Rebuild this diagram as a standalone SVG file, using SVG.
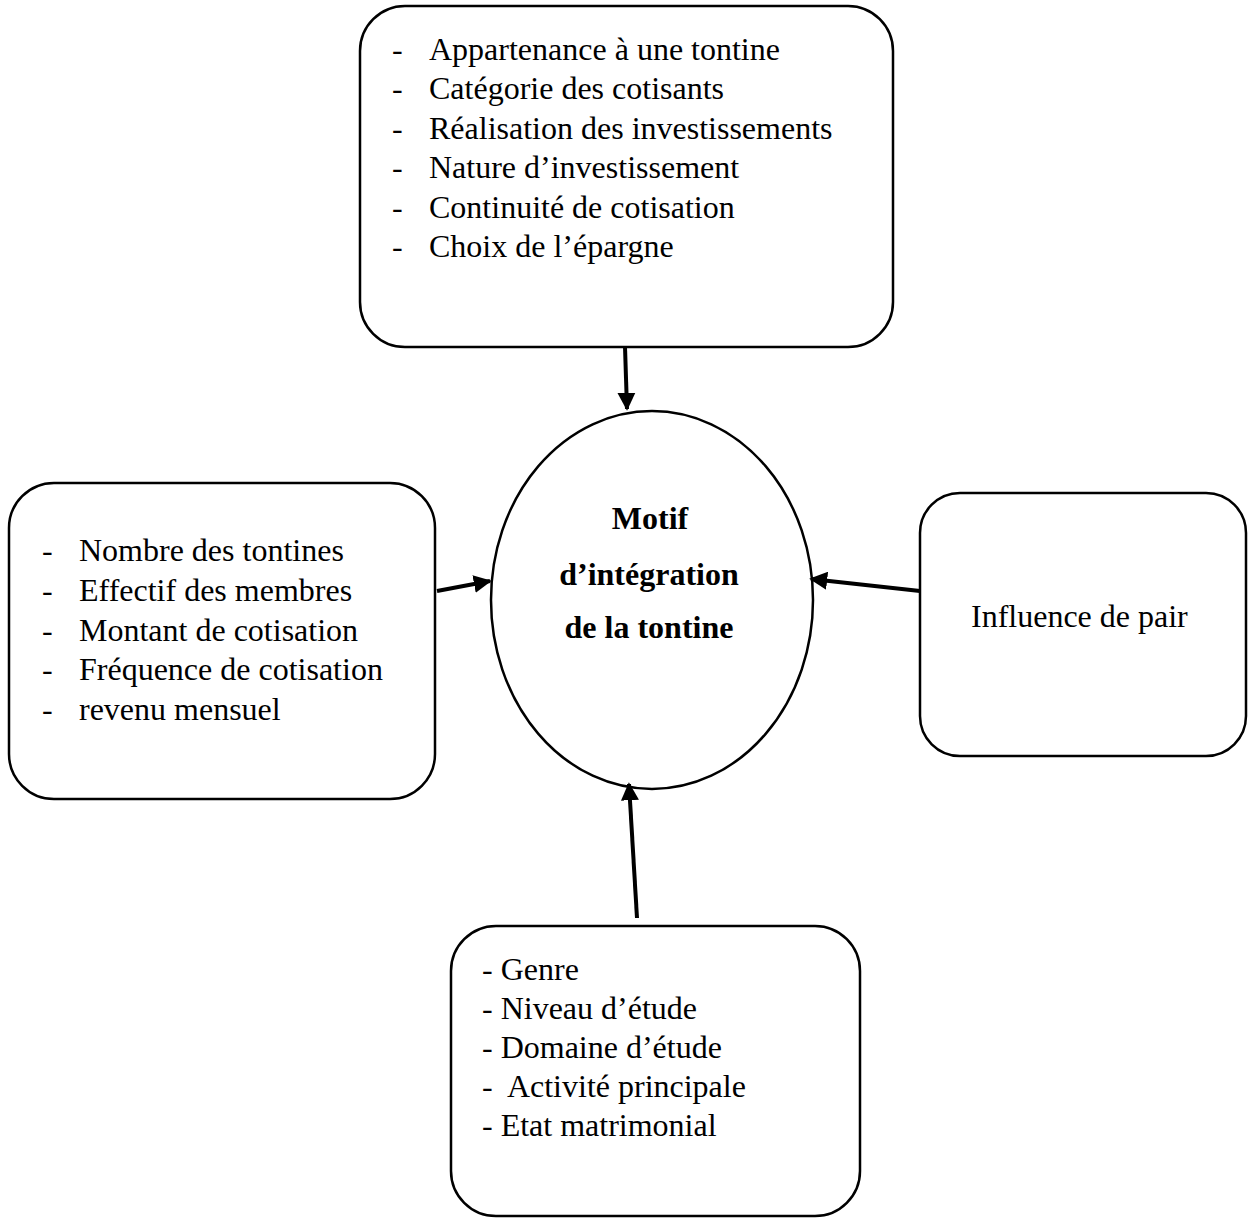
<svg xmlns="http://www.w3.org/2000/svg" width="1248" height="1218" viewBox="0 0 1248 1218">
<style>
.box{fill:#fff;stroke:#000;stroke-width:2.5}
.t{font-family:"Liberation Serif","Times New Roman",serif;font-size:32px;fill:#000;white-space:pre}
.b{font-weight:bold;text-anchor:middle}
.c{stroke:#000;stroke-width:4;fill:none;marker-end:url(#ah)}
</style>
<defs>
<marker id="ah" viewBox="0 0 10 10" refX="9" refY="5" markerWidth="4.5" markerHeight="4.5" orient="auto" markerUnits="strokeWidth">
<path d="M0,0 L10,5 L0,10 z" fill="#000"/>
</marker>
</defs>
<rect width="1248" height="1218" fill="#fff"/>
<g id="top">
<rect class="box" x="360" y="6" width="533" height="341" rx="45"/>
<g class="t">
<text x="392" y="60">-</text><text x="429" y="60">Appartenance à une tontine</text>
<text x="392" y="99">-</text><text x="429" y="99">Catégorie des cotisants</text>
<text x="392" y="139">-</text><text x="429" y="139">Réalisation des investissements</text>
<text x="392" y="178">-</text><text x="429" y="178">Nature d’investissement</text>
<text x="392" y="218">-</text><text x="429" y="218">Continuité de cotisation</text>
<text x="392" y="257">-</text><text x="429" y="257">Choix de l’épargne</text>
</g>
</g>
<g id="left">
<rect class="box" x="9" y="483" width="426" height="316" rx="45"/>
<g class="t">
<text x="42" y="561">-</text><text x="79" y="561">Nombre des tontines</text>
<text x="42" y="601">-</text><text x="79" y="601">Effectif des membres</text>
<text x="42" y="641">-</text><text x="79" y="641">Montant de cotisation</text>
<text x="42" y="680">-</text><text x="79" y="680">Fréquence de cotisation</text>
<text x="42" y="720">-</text><text x="79" y="720">revenu mensuel</text>
</g>
</g>
<g id="right">
<rect class="box" x="920" y="493" width="326" height="263" rx="40"/>
<text class="t" x="971" y="627">Influence de pair</text>
</g>
<g id="bottom">
<rect class="box" x="451" y="926" width="409" height="290" rx="45"/>
<g class="t">
<text x="482" y="980">- Genre</text>
<text x="482" y="1019">- Niveau d’étude</text>
<text x="482" y="1058">- Domaine d’étude</text>
<text x="482" y="1097" xml:space="preserve">-  Activité principale</text>
<text x="482" y="1136">- Etat matrimonial</text>
</g>
</g>
<g id="center">
<ellipse cx="652" cy="600" rx="161" ry="189" fill="#fff" stroke="#000" stroke-width="2.5"/>
<g class="t b">
<text x="650" y="529">Motif</text>
<text x="649" y="585">d’intégration</text>
<text x="649" y="638">de la tontine</text>
</g>
</g>
<g id="connectors">
<line class="c" x1="625" y1="347" x2="627" y2="409"/>
<line class="c" x1="437" y1="591" x2="490" y2="581"/>
<line class="c" x1="920" y1="591" x2="811" y2="579"/>
<line class="c" x1="637" y1="918" x2="629" y2="784"/>
</g>
</svg>
